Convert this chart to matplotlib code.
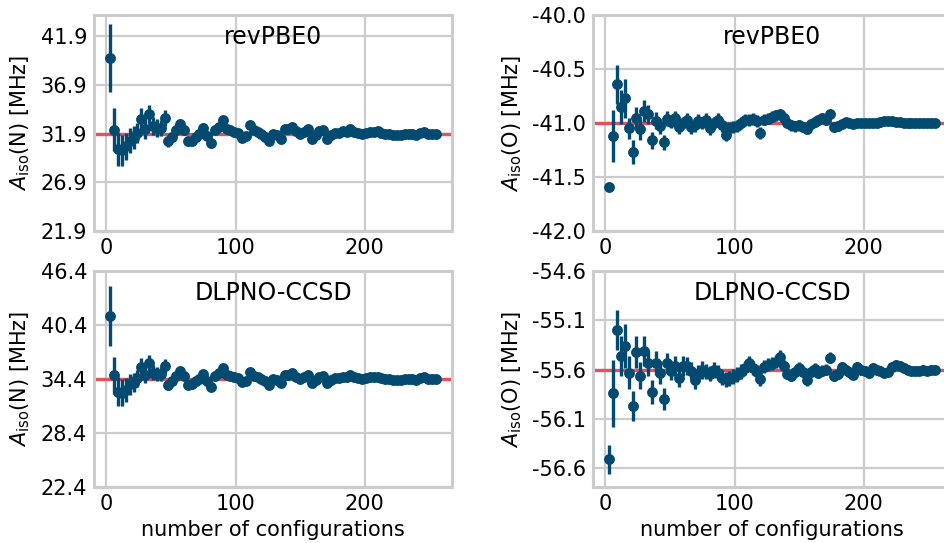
import numpy as np
import matplotlib
matplotlib.use("Agg")
import matplotlib.pyplot as plt

plt.rcParams['font.family'] = ['DejaVu Sans']
plt.rcParams['axes.unicode_minus'] = False

# number of configurations
n_conf = list(range(3, 256, 3))

# A_iso(N), revPBE0
n_rev = [39.7, 32.3, 30.3, 30.2, 30.6, 31.2, 31.5, 32.0, 33.4, 32.4,
         33.9, 32.7, 32.5, 32.5, 33.5, 31.1, 31.6, 32.3, 32.9, 32.3,
         31.1, 31.2, 31.6, 31.9, 32.5, 31.7, 30.9, 32.3, 32.6, 33.3,
         32.4, 32.3, 32.1, 32.0, 31.5, 31.7, 32.8, 32.3, 32.1, 31.9,
         31.6, 31.1, 31.9, 31.8, 31.4, 32.4, 32.4, 32.6, 32.2, 31.9,
         32.1, 32.4, 31.4, 31.8, 32.2, 32.3, 31.4, 31.8, 32.0, 32.0,
         32.2, 32.1, 32.4, 32.1, 32.0, 31.9, 32.0, 32.1, 32.1, 32.2,
         32.0, 31.9, 31.9, 31.8, 31.8, 31.8, 31.9, 31.9, 31.9, 31.8,
         32.0, 32.1, 31.9, 31.9, 31.9]
n_rev_err = [3.5, 2.2, 1.7, 1.6, 1.4, 1.25, 1.15, 1.05, 1.1, 1.0,
             1.0, 0.9, 0.9, 0.85, 0.85, 0.55, 0.5, 0.5, 0.5, 0.5,
             0.45, 0.45, 0.45, 0.45, 0.45, 0.45, 0.45, 0.45, 0.4, 0.4,
             0.4, 0.4, 0.4, 0.4, 0.4, 0.4, 0.4, 0.4, 0.4, 0.4,
             0.35, 0.35, 0.35, 0.35, 0.35, 0.35, 0.35, 0.35, 0.35, 0.35,
             0.35, 0.35, 0.35, 0.35, 0.35, 0.35, 0.35, 0.35, 0.35, 0.35,
             0.3, 0.3, 0.3, 0.3, 0.3, 0.3, 0.3, 0.3, 0.3, 0.3,
             0.3, 0.3, 0.3, 0.3, 0.3, 0.3, 0.3, 0.3, 0.3, 0.3,
             0.3, 0.3, 0.3, 0.3, 0.3]

# A_iso(N), DLPNO-CCSD
n_dlp = [41.4, 34.8, 33.0, 32.9, 33.2, 33.8, 34.0, 34.5, 35.75, 34.85,
         36.2, 35.1, 34.95, 34.95, 35.85, 33.7, 34.15, 34.75, 35.3, 34.75,
         33.7, 33.8, 34.15, 34.4, 34.95, 34.2, 33.5, 34.75, 35.05, 35.65,
         34.85, 34.75, 34.6, 34.5, 34.05, 34.2, 35.2, 34.75, 34.6, 34.4,
         34.15, 33.7, 34.4, 34.3, 33.95, 34.85, 34.85, 35.05, 34.65, 34.4,
         34.6, 34.85, 33.95, 34.3, 34.65, 34.75, 33.95, 34.3, 34.5, 34.5,
         34.65, 34.6, 34.85, 34.6, 34.5, 34.4, 34.5, 34.6, 34.6, 34.65,
         34.5, 34.4, 34.4, 34.3, 34.3, 34.3, 34.4, 34.4, 34.4, 34.3,
         34.5, 34.6, 34.4, 34.4, 34.4]
n_dlp_err = [3.3, 2.1, 1.6, 1.5, 1.3, 1.15, 1.05, 0.95, 1.0, 0.9,
             0.9, 0.85, 0.8, 0.8, 0.8, 0.5, 0.45, 0.45, 0.45, 0.45,
             0.4, 0.4, 0.4, 0.4, 0.4, 0.4, 0.4, 0.4, 0.4, 0.4,
             0.35, 0.35, 0.35, 0.35, 0.35, 0.35, 0.35, 0.35, 0.35, 0.35,
             0.35, 0.35, 0.35, 0.35, 0.35, 0.35, 0.35, 0.35, 0.35, 0.35,
             0.3, 0.3, 0.3, 0.3, 0.3, 0.3, 0.3, 0.3, 0.3, 0.3,
             0.3, 0.3, 0.3, 0.3, 0.3, 0.3, 0.3, 0.3, 0.3, 0.3,
             0.3, 0.3, 0.3, 0.3, 0.3, 0.3, 0.3, 0.3, 0.3, 0.3,
             0.3, 0.3, 0.3, 0.3, 0.3]

# A_iso(O), revPBE0
o_rev = [-41.59, -41.12, -40.64, -40.85, -40.77, -41.05, -41.27, -40.95, -41.06, -40.89,
         -40.92, -41.16, -40.98, -41.03, -41.18, -40.96, -40.99, -40.95, -41.04, -41.00,
         -40.97, -41.04, -41.02, -40.98, -41.00, -40.97, -41.05, -41.00, -40.97, -41.02,
         -41.11, -41.05, -41.04, -41.03, -41.00, -40.97, -40.97, -40.96, -40.98, -41.09,
         -40.97, -40.96, -40.94, -40.93, -40.92, -40.95, -41.00, -41.02, -41.03, -41.02,
         -41.04, -41.06, -41.01, -40.99, -40.97, -40.95, -40.97, -40.92, -41.04, -41.03,
         -41.01, -40.99, -41.00, -41.01, -41.00, -41.00, -41.00, -41.00, -41.00, -41.00,
         -40.99, -40.98, -40.98, -40.98, -40.99, -40.99, -41.00, -41.00, -41.00, -41.00,
         -41.00, -41.00, -41.00, -41.00, -41.00]
o_rev_err = [0.01, 0.24, 0.18, 0.16, 0.18, 0.1, 0.11, 0.1, 0.1, 0.1,
             0.09, 0.08, 0.08, 0.07, 0.07, 0.07, 0.06, 0.06, 0.06, 0.06,
             0.06, 0.06, 0.06, 0.06, 0.06, 0.06, 0.06, 0.06, 0.06, 0.06,
             0.055, 0.055, 0.055, 0.055, 0.055, 0.055, 0.055, 0.055, 0.055, 0.055,
             0.05, 0.05, 0.05, 0.05, 0.05, 0.05, 0.05, 0.05, 0.05, 0.05,
             0.045, 0.045, 0.045, 0.045, 0.045, 0.045, 0.045, 0.045, 0.045, 0.045,
             0.04, 0.04, 0.04, 0.04, 0.04, 0.04, 0.04, 0.04, 0.04, 0.04,
             0.04, 0.04, 0.04, 0.04, 0.04, 0.04, 0.04, 0.04, 0.04, 0.04,
             0.04, 0.04, 0.04, 0.04, 0.04]

# A_iso(O), DLPNO-CCSD
o_dlp = [-56.51, -55.84, -55.20, -55.46, -55.36, -55.63, -55.97, -55.42, -55.66, -55.41,
         -55.53, -55.83, -55.53, -55.63, -55.90, -55.53, -55.61, -55.56, -55.68, -55.56,
         -55.56, -55.61, -55.71, -55.64, -55.60, -55.62, -55.64, -55.60, -55.63, -55.68,
         -55.70, -55.69, -55.67, -55.65, -55.62, -55.58, -55.53, -55.58, -55.62, -55.70,
         -55.57, -55.55, -55.54, -55.52, -55.47, -55.56, -55.64, -55.66, -55.62, -55.58,
         -55.62, -55.71, -55.62, -55.59, -55.63, -55.61, -55.60, -55.48, -55.66, -55.64,
         -55.57, -55.60, -55.62, -55.65, -55.57, -55.60, -55.61, -55.63, -55.58, -55.60,
         -55.61, -55.63, -55.62, -55.57, -55.55, -55.56, -55.58, -55.60, -55.61, -55.61,
         -55.61, -55.60, -55.61, -55.60, -55.60]
o_dlp_err = [0.145, 0.34, 0.2, 0.2, 0.22, 0.17, 0.15, 0.16, 0.14, 0.15,
             0.13, 0.12, 0.12, 0.12, 0.11, 0.1, 0.1, 0.1, 0.1, 0.1,
             0.09, 0.09, 0.09, 0.09, 0.09, 0.08, 0.08, 0.08, 0.08, 0.08,
             0.075, 0.075, 0.075, 0.075, 0.075, 0.07, 0.07, 0.07, 0.07, 0.07,
             0.065, 0.065, 0.065, 0.065, 0.065, 0.06, 0.06, 0.06, 0.06, 0.06,
             0.055, 0.055, 0.055, 0.055, 0.055, 0.055, 0.055, 0.055, 0.055, 0.055,
             0.05, 0.05, 0.05, 0.05, 0.05, 0.05, 0.05, 0.05, 0.05, 0.05,
             0.045, 0.045, 0.045, 0.045, 0.045, 0.045, 0.045, 0.045, 0.045, 0.045,
             0.045, 0.045, 0.045, 0.045, 0.045]

# reference (converged) values and tick settings
ref_vals = [31.9, -41.0, 34.4, -55.6]
yticks = [[21.9, 26.9, 31.9, 36.9, 41.9],
          [-42.0, -41.5, -41.0, -40.5, -40.0],
          [22.4, 28.4, 34.4, 40.4, 46.4],
          [-56.6, -56.1, -55.6, -55.1, -54.6]]
ylims = [(21.9, 44.1), (-42.0, -40.0), (22.4, 46.4), (-56.79, -54.6)]
titles = ["revPBE0", "revPBE0", "DLPNO-CCSD", "DLPNO-CCSD"]
ylabels = [r"$A_{\rm iso}$(N) [MHz]", r"$A_{\rm iso}$(O) [MHz]",
           r"$A_{\rm iso}$(N) [MHz]", r"$A_{\rm iso}$(O) [MHz]"]
series = [(n_rev, n_rev_err), (o_rev, o_rev_err),
          (n_dlp, n_dlp_err), (o_dlp, o_dlp_err)]

W, H = 944, 543
fig = plt.figure(figsize=(W / 100, H / 100), dpi=100)
fig.patch.set_facecolor("white")

aw, ah = 358 / W, 216 / H
lefts = [94 / W, 593 / W]
bottoms = [(H - 231) / H, (H - 487) / H]

dark = "#024a70"
red = "#e4515a"
grey = "#cccccc"

for k in range(4):
    r, c = divmod(k, 2)
    ax = fig.add_axes([lefts[c], bottoms[r], aw, ah])
    vals, errs = series[k]
    ax.axhline(ref_vals[k], color=red, lw=2.4, zorder=2)
    ax.errorbar(n_conf, vals, yerr=errs, fmt="o", color=dark, ms=6.8,
                elinewidth=2.4, capsize=0, zorder=3)
    ax.set_xlim(-9.65, 267.65)
    ax.set_ylim(*ylims[k])
    ax.set_yticks(yticks[k])
    ax.set_yticklabels([f"{v:.1f}" for v in yticks[k]])
    ax.set_xticks([0, 100, 200])
    ax.grid(True, color=grey, lw=1.6, zorder=0)
    ax.set_axisbelow(True)
    for s in ax.spines.values():
        s.set_color(grey)
        s.set_linewidth(2.2)
    ax.tick_params(length=0, labelsize=15, pad=5, colors="black")
    ax.text(0.5, 0.9, titles[k], transform=ax.transAxes, ha="center",
            va="center", fontsize=17)
    ax.set_ylabel(ylabels[k], fontsize=15, labelpad=6)
    if r == 1:
        ax.set_xlabel("number of configurations", fontsize=15, labelpad=4)

fig.savefig("out.png", dpi=100)
